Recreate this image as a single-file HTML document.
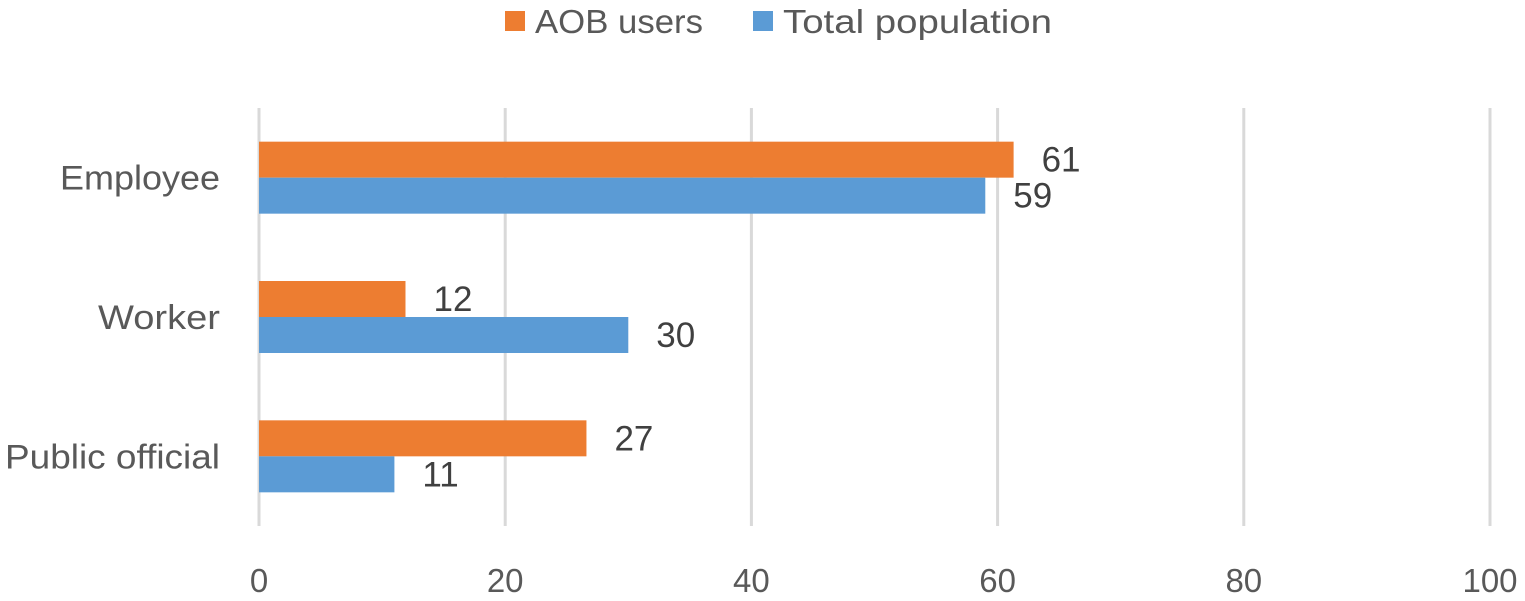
<!DOCTYPE html>
<html><head><meta charset="utf-8"><style>
body{margin:0;background:#fff;}
svg text{font-family:"Liberation Sans",sans-serif;}
</style></head><body>
<svg id="chart" width="1525" height="596" xmlns="http://www.w3.org/2000/svg">
<g id="legend">
<rect x="505" y="11" width="20" height="20" fill="#ED7D31"/>
<text x="535" y="33" font-size="33" textLength="168" lengthAdjust="spacingAndGlyphs" fill="#595959">AOB users</text>
<rect x="753" y="11" width="20" height="20" fill="#5B9BD5"/>
<text x="783" y="33" font-size="33" textLength="269" lengthAdjust="spacingAndGlyphs" fill="#595959">Total population</text>
</g>
<g id="grid"></g><g id="bars"></g><g id="labels"></g>
</svg>
<script>
const categories = ["Employee","Worker","Public official"];
const aobValues = [61.3, 11.9, 26.6];
const totalValues = [59, 30, 11];
const aobLabels = ["61","12","27"];
const totalLabels = ["59","30","11"];
const ticks = [0,20,40,60,80,100];
const catWidths = [160, 122, 215];

const NS="http://www.w3.org/2000/svg";
const x0=259, x1=1490, yTop=108, yBot=526;
const xs=v=>x0+(v/100)*(x1-x0);
const band=(yBot-yTop)/categories.length;
const barH=36;
function mk(tag,attrs,parent,txt){const e=document.createElementNS(NS,tag);for(const k in attrs)e.setAttribute(k,attrs[k]);if(txt!==undefined)e.textContent=txt;parent.appendChild(e);return e;}
const grid=document.getElementById('grid'),bars=document.getElementById('bars'),labels=document.getElementById('labels');
ticks.forEach(t=>{
  const l=mk('line',{x1:xs(t),x2:xs(t),y1:yTop,y2:yBot,stroke:'#d9d9d9','stroke-width':3},grid);
  
  
  const tx=mk('text',{x:xs(t),y:592,'font-size':33,fill:'#595959','text-anchor':'middle'},grid,String(t));
  
  
});
categories.forEach((c,i)=>{
  const cy=yTop+band*(i+0.5);
  const cl=mk('text',{x:220-catWidths[i],y:cy+12,'font-size':34,fill:'#595959',textLength:catWidths[i],lengthAdjust:'spacingAndGlyphs'},labels,c);
  
  
  const r1=mk('rect',{x:x0,y:cy-barH,width:xs(aobValues[i])-x0,height:barH,fill:'#ED7D31'},bars);
  
  
  const r2=mk('rect',{x:x0,y:cy,width:xs(totalValues[i])-x0,height:barH,fill:'#5B9BD5'},bars);
  
  
  const v1=mk('text',{x:xs(aobValues[i])+28,y:cy-barH/2+12,'font-size':35,fill:'#404040'},labels,aobLabels[i]);
  
  
  const v2=mk('text',{x:xs(totalValues[i])+28,y:cy+barH/2+12,'font-size':35,fill:'#404040'},labels,totalLabels[i]);
  
  
});
</script>
</body></html>
